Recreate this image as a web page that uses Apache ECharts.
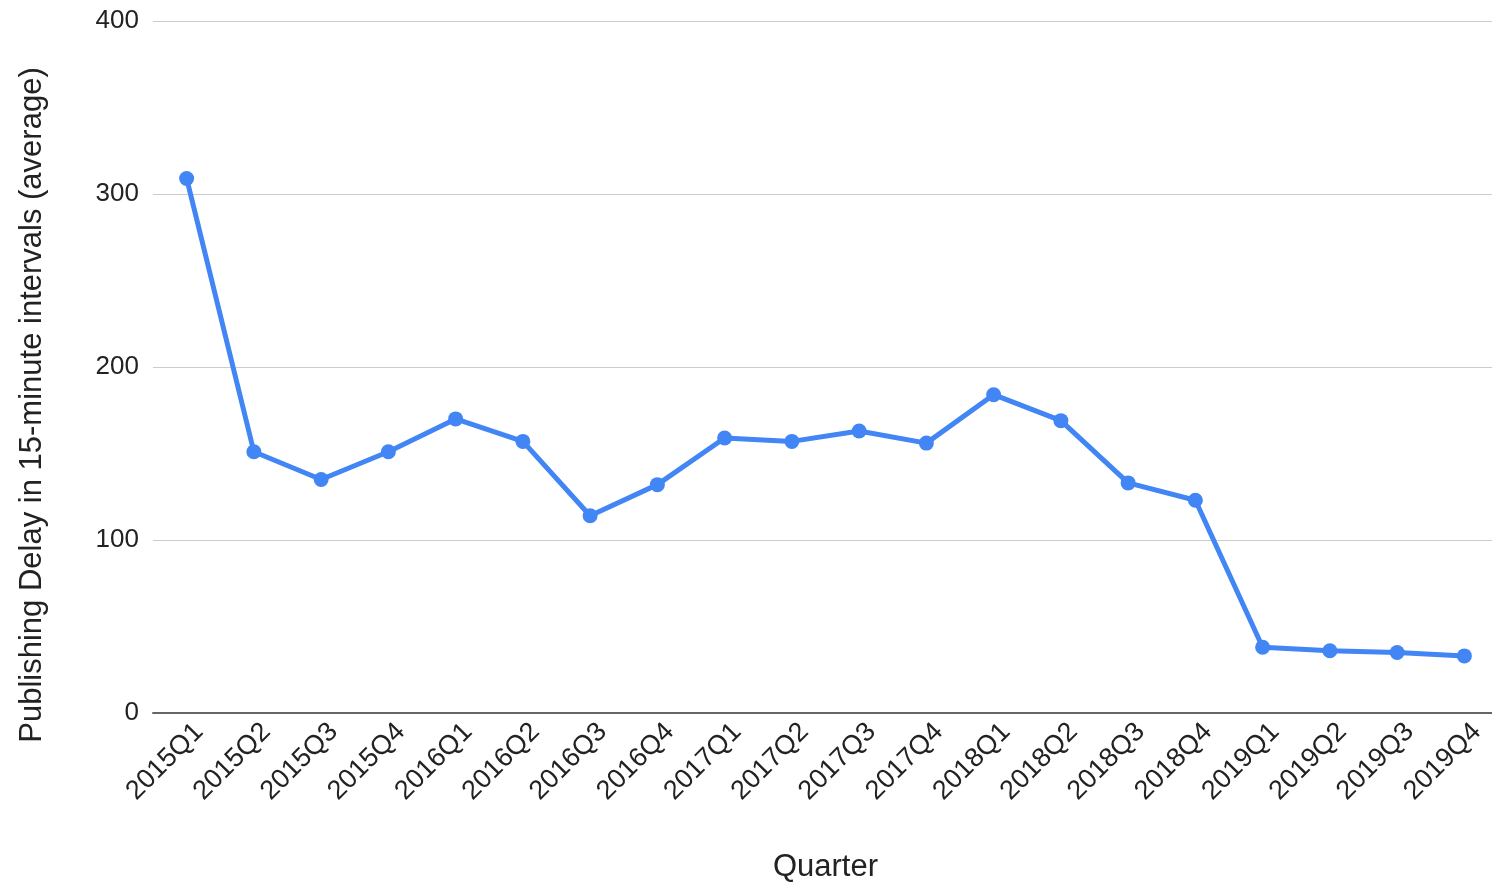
<!DOCTYPE html>
<html>
<head>
<meta charset="utf-8">
<script src="https://cdn.jsdelivr.net/npm/echarts@6/dist/echarts.min.js"></script>
<style>
  html, body { margin: 0; padding: 0; background: #fff; }
  #chart { width: 1492px; height: 883px; }
</style>
</head>
<body>
<div id="chart"></div>
<script>
// Quarterly categories along the x axis
const quarters = [
  '2015Q1', '2015Q2', '2015Q3', '2015Q4',
  '2016Q1', '2016Q2', '2016Q3', '2016Q4',
  '2017Q1', '2017Q2', '2017Q3', '2017Q4',
  '2018Q1', '2018Q2', '2018Q3', '2018Q4',
  '2019Q1', '2019Q2', '2019Q3', '2019Q4'
];

// Average publishing delay, counted in 15-minute intervals
const delayAverage = [
  309, 151, 135, 151,
  170, 157, 114, 132,
  159, 157, 163, 156,
  184, 169, 133, 123,
  38, 36, 35, 33
];

const yTicks = { min: 0, max: 400, interval: 100 };

const chart = echarts.init(document.getElementById('chart'));
const fontFamily = 'Liberation Sans, Arial, sans-serif';

chart.setOption({
  animation: false,
  backgroundColor: '#ffffff',
  grid: {
    left: 153, top: 21, width: 1345, bottom: 170,
    containLabel: false, outerBoundsMode: 'none'
  },
  xAxis: {
    type: 'category',
    data: quarters,
    boundaryGap: true,
    name: 'Quarter',
    nameLocation: 'middle',
    nameGap: 139,
    nameTextStyle: { fontFamily, fontSize: 31, color: '#222' },
    axisLine: { lineStyle: { color: '#666', width: 2 } },
    axisTick: { show: false },
    axisLabel: {
      rotate: 45, interval: 0, margin: 8,
      verticalAlign: 'top',
      fontFamily, fontSize: 27, color: '#222',
      padding: [0, -4, 0, 0]
    }
  },
  yAxis: {
    type: 'value',
    min: yTicks.min, max: yTicks.max, interval: yTicks.interval,
    name: 'Publishing Delay in 15-minute intervals (average)',
    nameLocation: 'middle',
    nameGap: 105,
    nameTextStyle: { fontFamily, fontSize: 31, color: '#222', padding: [0, 76, 0, 0] },
    axisLine: { show: false },
    axisTick: { show: false },
    splitLine: { lineStyle: { color: '#cccccc', width: 1 } },
    axisLabel: { margin: 14, fontFamily, fontSize: 26, color: '#222' }
  },
  series: [{
    type: 'line',
    data: delayAverage,
    symbol: 'circle',
    symbolSize: 15,
    lineStyle: { color: '#4285f4', width: 5 },
    itemStyle: { color: '#4285f4' }
  }]
});
</script>
</body>
</html>
